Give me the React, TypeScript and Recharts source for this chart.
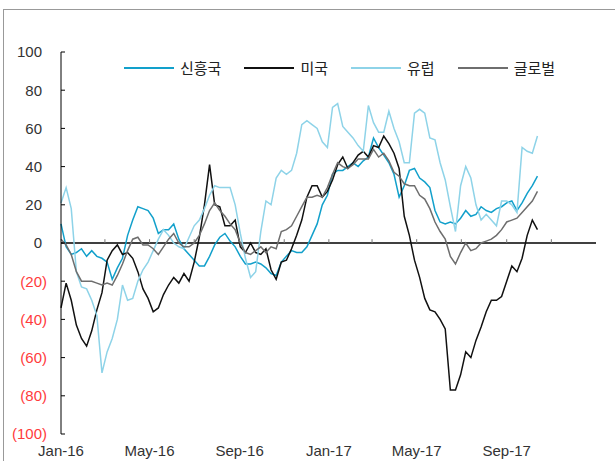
import React from 'react';
import { LineChart, Line, XAxis, YAxis, ReferenceLine } from 'recharts';

const seriesKeys = ['em', 'us', 'eu', 'gl'];
const seriesNames = ['신흥국', '미국', '유럽', '글로벌'];
const seriesColors = ['#12A0CB', '#111111', '#8ED3E8', '#6E6E6E'];

// weekly observations starting 2016-01-01
const startDate = '2016-01-01';
const endDate = '2017-12-31';
const stepDays = 7;

const em = [10,-2,-6,-5,-3,-7,-4,-7,-8,-10,-19,-13,-8,4,12,19,18,17,13,5,7,7,10,2,-3,-6,-9,-12,-12,-7,-1,3,5,1,-2,-7,-11,-11,-10,-11,-13,-16,-17,-10,-7,-4,-5,-5,-2,4,10,20,25,36,38,38,40,42,40,43,45,55,50,46,42,36,24,30,38,39,34,32,29,17,11,10,11,10,13,17,14,15,19,17,16,18,19,21,22,17,21,26,30,35];
const us = [-34,-21,-30,-43,-50,-54,-46,-35,-26,-9,-4,-1,-6,-5,-8,-15,-24,-29,-36,-34,-27,-22,-18,-21,-16,-20,-10,3,20,41,20,19,9,9,12,-2,-5,0,-5,-6,-3,-14,-19,-10,-9,-3,4,12,24,30,30,24,27,33,41,45,39,42,46,48,45,51,50,56,52,47,39,14,4,-9,-18,-29,-35,-36,-40,-45,-77,-77,-69,-57,-60,-51,-44,-36,-30,-30,-28,-20,-12,-15,-8,4,12,7];
const eu = [21,29,18,-15,-23,-24,-30,-38,-68,-57,-50,-40,-22,-30,-29,-20,-14,-10,-4,2,7,4,0,-2,-3,3,9,12,18,25,30,29,29,29,20,5,-8,-18,-15,6,22,20,34,38,36,38,47,62,64,62,60,53,50,71,73,61,58,55,51,48,72,63,58,58,69,60,53,42,42,68,70,68,55,54,42,33,19,6,30,40,34,20,12,15,12,9,22,22,20,16,50,48,47,56];
const gl = [2,-1,-6,-15,-20,-20,-20,-21,-22,-21,-22,-17,-11,-4,2,3,-1,-1,-3,-6,-2,2,5,0,-2,-2,0,4,10,17,21,17,14,10,7,0,-5,-6,-4,-2,-5,-2,-3,6,7,9,14,19,24,24,25,24,29,36,42,40,39,41,44,44,44,49,45,47,43,37,35,31,30,30,25,23,18,11,6,2,-7,-11,-5,0,-4,-3,0,1,2,4,7,11,12,13,16,19,22,27];

const labelTexts = ['Jan-16', 'May-16', 'Sep-16', 'Jan-17', 'May-17', 'Sep-17'];
const labelDates = ['2016-01-01', '2016-05-01', '2016-09-01', '2017-01-01', '2017-05-01', '2017-09-01'];
const minorTickDates = ['2016-03-01', '2016-05-01', '2016-07-01', '2016-09-01', '2016-11-01', '2017-01-01', '2017-03-01', '2017-05-01', '2017-07-01', '2017-09-01', '2017-11-01'];
const yTicks = [-100, -80, -60, -40, -20, 0, 20, 40, 60, 80, 100];

const dayOf = (s: string) => Math.round((Date.parse(s) - Date.parse(startDate)) / 86400000);
const labelDays = labelDates.map(dayOf);
const labelByDay: Record<number, string> = {};
labelDays.forEach((d, i) => { labelByDay[d] = labelTexts[i]; });
const minorDays = minorTickDates.map(dayOf);
const endDay = dayOf(endDate) + 1;

const data = em.map((v, i) => ({ d: i * stepDays, em: v, us: us[i], eu: eu[i], gl: gl[i] }));

const numFont = '"Liberation Sans", Arial, sans-serif';

const YTick = (props: any) => {
  const { x, y, payload } = props;
  const v = payload.value as number;
  const neg = v < 0;
  return (
    <g>
      <line x1={x} x2={x + 4} y1={y} y2={y} stroke="#000" strokeWidth={1} />
      <text x={neg ? x - 14 : x - 19} y={y} dy={5.3} textAnchor="end" fill={neg ? '#FF3B3B' : '#333'} fontSize={15} fontFamily={numFont}>
        {neg ? `(${-v})` : `${v}`}
      </text>
    </g>
  );
};

const XTick = (props: any) => {
  const { x, y, payload } = props;
  return (
    <text x={x} y={y} dy={22} textAnchor="middle" fill="#333" fontSize={15} fontFamily={numFont}>
      {labelByDay[payload.value] ?? ''}
    </text>
  );
};

export default function App() {
  return (
    <div style={{ position: 'absolute', left: 0, top: 0, width: 615, height: 461, background: '#fff', overflow: 'hidden' }}>
      <div style={{ position: 'absolute', left: 3, top: 9, width: 620, height: 460, borderLeft: '1px solid #999', borderTop: '1px solid #999' }} />
      <LineChart width={615} height={461} data={data} margin={{ top: 52, right: 19, bottom: 0, left: 0 }} style={{ position: 'absolute', left: 0, top: 0 }}>
        <XAxis
          dataKey="d"
          type="number"
          domain={[0, endDay]}
          ticks={labelDays}
          interval={0}
          height={27}
          axisLine={false}
          tickLine={false}
          tickSize={0}
          tickMargin={0}
          tick={<XTick />}
        />
        <YAxis
          type="number"
          domain={[-100, 100]}
          ticks={yTicks}
          interval={0}
          width={61}
          axisLine={{ stroke: '#000', strokeWidth: 1 }}
          tickLine={false}
          tickSize={0}
          tickMargin={0}
          tick={<YTick />}
        />
        <ReferenceLine y={0} stroke="#000" strokeWidth={1.3} ifOverflow="extendDomain" />
        {minorDays.map((d) => (
          <ReferenceLine key={d} segment={[{ x: d, y: 0 }, { x: d, y: 2 }]} stroke="#777" strokeWidth={1} />
        ))}
        {seriesKeys.map((k, i) => (
          <Line key={k} type="linear" dataKey={k} name={seriesNames[i]} stroke={seriesColors[i]} strokeWidth={1.5} dot={false} isAnimationActive={false} />
        ))}
      </LineChart>
      <div style={{ position: 'absolute', left: 124, top: 58, height: 20, display: 'flex', alignItems: 'center', fontFamily: '"Noto Sans CJK KR", sans-serif', fontSize: 15, color: '#222' }}>
        {seriesNames.map((n, i) => (
          <div key={n} style={{ display: 'flex', alignItems: 'center', marginRight: 23 }}>
            <span style={{ display: 'inline-block', width: 50, height: 2, background: seriesColors[i], marginRight: 6 }} />
            <span style={{ lineHeight: '20px' }}>{n}</span>
          </div>
        ))}
      </div>
    </div>
  );
}
